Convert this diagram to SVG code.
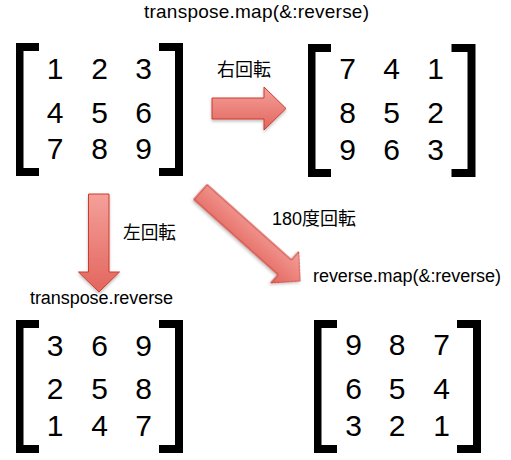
<svg xmlns="http://www.w3.org/2000/svg" width="511" height="460" viewBox="0 0 511 460">
<style>
.num{font-family:"Liberation Sans",Arial,Helvetica,sans-serif;font-size:30px;fill:#000;text-anchor:middle}
.lbl{font-family:"Liberation Sans",Arial,Helvetica,sans-serif;font-size:18px;fill:#000}
.jp{font-family:"Liberation Sans","Noto Sans CJK JP",sans-serif;font-size:18px;fill:#000}
.br{fill:#000}
.arr{fill:url(#ag);stroke:#cc3b2f;stroke-width:1;filter:url(#sh)}
</style>
<defs>
<linearGradient id="ag" x1="0" y1="0" x2="0" y2="1">
<stop offset="0" stop-color="#f4a09a"/>
<stop offset="1" stop-color="#e2665e"/>
</linearGradient>
<filter id="sh" x="-20%" y="-20%" width="140%" height="140%">
<feDropShadow dx="0" dy="2" stdDeviation="1.5" flood-color="#000" flood-opacity="0.25"/>
</filter>
<path id="lb" d="M0,0 H23 V8 H7.5 V125 H23 V133 H0 Z"/>
<path id="rb" d="M0,0 H24 V133 H0 V125 H16 V8 H0 Z"/>
</defs>
<rect width="511" height="460" fill="#fff"/>

<g id="m1">
<text class="lbl" x="144" y="18" style="font-size:19px" textLength="225" lengthAdjust="spacing">transpose.map(&amp;:reverse)</text>
<use href="#lb" class="br" x="16" y="43"/>
<use href="#rb" class="br" x="159" y="43"/>
<text class="num" x="55" y="78.5">1</text><text class="num" x="99.5" y="78.5">2</text><text class="num" x="143.5" y="78.5">3</text>
<text class="num" x="55" y="122.5">4</text><text class="num" x="99.5" y="122.5">5</text><text class="num" x="143.5" y="122.5">6</text>
<text class="num" x="55" y="159">7</text><text class="num" x="99.5" y="159">8</text><text class="num" x="143.5" y="159">9</text>
</g>

<g id="m2">
<use href="#lb" class="br" x="308" y="44"/>
<use href="#rb" class="br" x="451.5" y="44"/>
<text class="num" x="347.5" y="78.5">7</text><text class="num" x="391.5" y="78.5">4</text><text class="num" x="435.5" y="78.5">1</text>
<text class="num" x="347.5" y="122.5">8</text><text class="num" x="391.5" y="122.5">5</text><text class="num" x="435.5" y="122.5">2</text>
<text class="num" x="347.5" y="159.5">9</text><text class="num" x="391.5" y="159.5">6</text><text class="num" x="435.5" y="159.5">3</text>
</g>

<g id="m3">
<text class="lbl" x="30" y="303.5" textLength="143" lengthAdjust="spacing">transpose.reverse</text>
<use href="#lb" class="br" x="16" y="320"/>
<use href="#rb" class="br" x="159" y="320"/>
<text class="num" x="55" y="355.5">3</text><text class="num" x="99.5" y="355.5">6</text><text class="num" x="143.5" y="355.5">9</text>
<text class="num" x="55" y="399">2</text><text class="num" x="99.5" y="399">5</text><text class="num" x="143.5" y="399">8</text>
<text class="num" x="55" y="436">1</text><text class="num" x="99.5" y="436">4</text><text class="num" x="143.5" y="436">7</text>
</g>

<g id="m4">
<text class="lbl" x="313" y="281.5" textLength="188" lengthAdjust="spacing">reverse.map(&amp;:reverse)</text>
<use href="#lb" class="br" x="314" y="320"/>
<use href="#rb" class="br" x="457" y="320"/>
<text class="num" x="353.5" y="355">9</text><text class="num" x="397" y="355">8</text><text class="num" x="441.5" y="355">7</text>
<text class="num" x="353.5" y="398.5">6</text><text class="num" x="397" y="398.5">5</text><text class="num" x="441.5" y="398.5">4</text>
<text class="num" x="353.5" y="435.5">3</text><text class="num" x="397" y="435.5">2</text><text class="num" x="441.5" y="435.5">1</text>
</g>

<g id="connectors">
<path class="arr" d="M212,98 H264 V87 L286,108.5 L264,130 V119 H212 Z"/>
<text class="jp" x="217" y="76" textLength="54" lengthAdjust="spacingAndGlyphs">右回転</text>
<path class="arr" d="M88.5,194 H109 V272 H119.5 L99,292 L78.5,272 H88.5 Z"/>
<text class="jp" x="123" y="239" textLength="53" lengthAdjust="spacingAndGlyphs">左回転</text>
<path class="arr" transform="translate(200.5,192) rotate(41.8)" d="M0,-10 H113 V-21 L133.5,0 L113,21 V10 H0 Z"/>
<text class="jp" x="272" y="224.5" textLength="84" lengthAdjust="spacingAndGlyphs">180度回転</text>
</g>
</svg>
